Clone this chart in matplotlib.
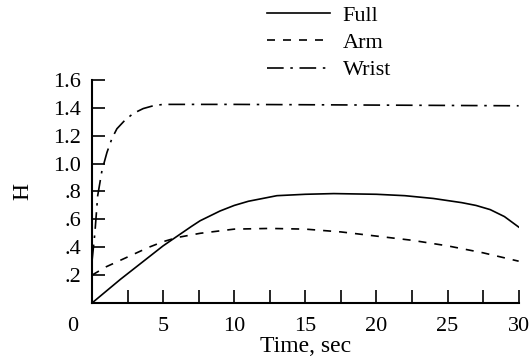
import numpy as np
import matplotlib.pyplot as plt
import matplotlib.transforms as mtransforms

# valores
t_full = [0, 1, 2, 2.5, 3, 4, 5, 6, 7, 7.6, 8, 9, 10, 11, 12, 12.5, 13, 15, 17, 20, 22, 24, 25, 26, 27, 28, 29, 30]
h_full = [0, 0.085, 0.17, 0.21, 0.25, 0.33, 0.41, 0.48, 0.55, 0.59, 0.61, 0.66, 0.70, 0.73, 0.75, 0.76, 0.77, 0.78, 0.785, 0.78, 0.77, 0.75, 0.735, 0.72, 0.70, 0.67, 0.62, 0.545]

t_arm = [0, 1, 2.5, 4, 5, 6, 7.6, 10, 12.5, 15, 17.5, 20, 22.5, 25, 27.5, 30]
h_arm = [0.2, 0.26, 0.33, 0.40, 0.44, 0.47, 0.50, 0.53, 0.535, 0.53, 0.51, 0.48, 0.45, 0.41, 0.36, 0.30]

t_wrist = [0, 0.2, 0.4, 0.7, 1.05, 1.4, 1.75, 2.3, 2.9, 3.6, 4.3, 5, 10, 20, 30]
h_wrist = [0.3, 0.5, 0.77, 0.95, 1.08, 1.18, 1.25, 1.31, 1.36, 1.395, 1.415, 1.425, 1.425, 1.42, 1.415]

xticks = [0, 5, 10, 15, 20, 25, 30]
yticks = [0.2, 0.4, 0.6, 0.8, 1.0, 1.2, 1.4, 1.6]
ylabels = ['.2', '.4', '.6', '.8', '1.0', '1.2', '1.4', '1.6']

plt.rcParams['font.family'] = ['Liberation Serif', 'DejaVu Serif']

fig = plt.figure(figsize=(5.3, 3.62), dpi=100)
ax = fig.add_axes([0.1736, 0.163, 0.805, 0.616])

ax.plot(t_full, h_full, color='black', lw=1.2, label='Full')
ax.plot(t_arm, h_arm, color='black', lw=1.2, dashes=(4.8, 4.8), label='Arm')
ax.plot(t_wrist, h_wrist, color='black', lw=1.2, dashes=(10, 4, 1.5, 4), label='Wrist')

ax.set_xlim(0, 30)
ax.set_ylim(0, 1.6)
ax.spines['top'].set_visible(False)
ax.spines['right'].set_visible(False)
ax.spines['left'].set_linewidth(1.5)
ax.spines['bottom'].set_linewidth(1.5)

ax.set_xticks(xticks)
ax.set_xticks(np.arange(2.5, 30, 5), minor=True)
ax.set_yticks(yticks)
ax.set_yticklabels(ylabels)
ax.tick_params(which='both', direction='in', length=9.5, width=1.2, labelsize=16, pad=8)
ax.tick_params(axis='x', pad=10)

# o "0" fica deslocado para a esquerda do eixo
lab0 = ax.get_xticklabels()[0]
lab0.set_transform(lab0.get_transform() + mtransforms.ScaledTranslation(-0.19, 0, fig.dpi_scale_trans))

ax.set_xlabel('Time, sec', fontsize=17, labelpad=0)
ax.set_ylabel('H', fontsize=17, labelpad=14)

fig.legend(loc='upper left', bbox_to_anchor=(267 / 530, 0.985), frameon=False, fontsize=16,
           borderaxespad=0, borderpad=0,
           handlelength=2.85, handletextpad=0.55, labelspacing=0.3)

fig.savefig('out.png', dpi=100)
